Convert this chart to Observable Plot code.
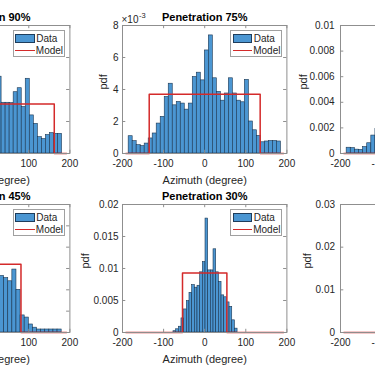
<!DOCTYPE html>
<html><head><meta charset="utf-8">
<script src="https://cdn.jsdelivr.net/npm/d3@7"></script>
<script src="https://cdn.jsdelivr.net/npm/@observablehq/plot@0.6"></script>
<style>
html,body{margin:0;padding:0;background:#fff;}
#fig{position:relative;width:375px;height:366px;overflow:hidden;background:#fff;font-family:"Liberation Sans",Arial,sans-serif;}
.leg{position:absolute;border:1px solid #a0a0a0;background:#fff;box-sizing:border-box;width:52px;height:27px;font-size:10px;color:#262626;}
.leg .sw{position:absolute;left:1.5px;top:2.5px;width:19.5px;height:9px;background:#4b96d2;border:0.6px solid #1e3d5c;box-sizing:border-box;}
.leg .ln{position:absolute;left:1.5px;top:18.5px;width:19.5px;height:1.5px;background:#d42a2a;}
.leg .t{position:absolute;line-height:11px;white-space:nowrap;}
</style></head><body><div id="fig"></div>
<script>
// ---- data ----
const titles = ["Penetration 90%", "Penetration 75%", "Penetration 60%", "Penetration 45%", "Penetration 30%", "Penetration 15%"];
const xTicks = [-200, -100, 0, 100, 200];
const binStart = [24, -185, -185, 20, -76, -10];
const binWidth = [9.8, 9.75, 10, 10, 6.5, 5];
const pdf90 = [0.0048, 0.00317, 0.00317, 0.00315, 0.00383, 0.00408, 0.0029, 0.00467, 0.00238, 0.00185, 0.00102, 0.0009, 0.00115, 0.00127, 0.00123, 0.00123];
const pdf75 = [0.00108, 0.00077, 0.00052, 0.00046, 0.00062, 0.00094, 0.00125, 0.00187, 0.00229, 0.00353, 0.00436, 0.00301, 0.00322, 0.00312, 0.00274, 0.00312, 0.00478, 0.00505, 0.00457, 0.00644, 0.00738, 0.0047, 0.00385, 0.0033, 0.00375, 0.0047, 0.00375, 0.0033, 0.0032, 0.0046, 0.002, 0.00145, 0.0011, 0.0007, 0.00075, 0.00078, 0.00078, 0.00075];
const pdf60 = [0.00045, 0.00042, 0.0003, 0.00028, 0.0005, 0.0008, 0.0014, 0.0019];
const pdf45 = [0.005, 0.0053, 0.0051, 0.0048, 0.0059, 0.004, 0.0016, 0.0014, 0.00075, 0.00045, 0.00028, 0.00028, 0.00028, 0.00028, 0.00028, 0.00028];
const pdf30 = [0.0002, 0.0005, 0.0009, 0.0022, 0.0036, 0.0049, 0.0062, 0.0074, 0.007, 0.0073, 0.0094, 0.011, 0.0178, 0.0097, 0.0097, 0.013, 0.0094, 0.0079, 0.0058, 0.0055, 0.0047, 0.004, 0.0019, 0.0006];
const pdf15 = [];
const modelHalfWidth = [162, 135, 108, 81, 54, 27];
const modelHeight = [0.0031, 0.0037, 0.0046, 0.0064, 0.0093, 0.0185];
const modelRange = [-192, 192];
const yMax = [0.008, 0.008, 0.01, 0.012, 0.02, 0.03];
const yTicks90 = [0, 0.002, 0.004, 0.006, 0.008];
const yTicks75 = [0, 0.002, 0.004, 0.006, 0.008];
const yTicks60 = [0, 0.002, 0.004, 0.006, 0.008, 0.01];
const yTicks45 = [0, 0.002, 0.004, 0.006, 0.008, 0.01, 0.012];
const yTicks30 = [0, 0.005, 0.01, 0.015, 0.02];
const yTicks15 = [0, 0.01, 0.02, 0.03];
const pdfs = [pdf90, pdf75, pdf60, pdf45, pdf30, pdf15];
const yTicksAll = [yTicks90, yTicks75, yTicks60, yTicks45, yTicks30, yTicks15];
const useExponent = [true, true, false, false, false, false];

// ---- styling / layout ----
const barFill = "#4b96d2", barStroke = "#1a3550", red = "#d42a2a", frameColor = "#8f8f8f", textColor = "#262626";
const boxW = 164.4, boxH = 128;
const boxLeft = [-95.1, 122.3, 340, -95.1, 122.3, 340];
const boxTop = [25, 25, 25, 204, 204, 204];
const pdfDx = [-19.3, -19.3, -37, -37, -37.3, -33];
const yPad = [4, 4, 6, 4, 4, 5.5];
const mL = 60, mR = 12, mT = 32, mB = 40;
const fig = document.getElementById("fig");
const fmtX = d => (d < 0 ? "-" + (-d) : String(d));

for (let i = 0; i < 6; i++) {
  const bars = pdfs[i].map((v, k) => ({x1: binStart[i] + k * binWidth[i], x2: binStart[i] + (k + 1) * binWidth[i], pdf: v}));
  const hw = modelHalfWidth[i], h = modelHeight[i];
  const model = [
    {x: modelRange[0], y: 0}, {x: -hw, y: 0}, {x: -hw, y: h},
    {x: hw, y: h}, {x: hw, y: 0}, {x: modelRange[1], y: 0}
  ];
  const ym = yMax[i];
  const yt = yTicksAll[i];
  const fmtY = useExponent[i] ? (d => String(Math.round(d * 1000))) : (d => d === 0 ? "0" : String(+d.toPrecision(3)));
  const marks = [
    Plot.rectY(bars, {x1: "x1", x2: "x2", y: "pdf", fill: barFill, stroke: barStroke, strokeWidth: 0.6}),
    Plot.line(model, {x: "x", y: "y", stroke: red, strokeWidth: 1.5}),
    Plot.frame({stroke: frameColor}),
    Plot.ruleX(xTicks, {x: d => d, y1: 0, y2: ym * 0.025, stroke: frameColor}),
    Plot.ruleX(xTicks, {x: d => d, y1: ym, y2: ym * 0.975, stroke: frameColor}),
    Plot.ruleY(yt, {y: d => d, x1: -200, x2: -192, stroke: frameColor}),
    Plot.ruleY(yt, {y: d => d, x1: 200, x2: 192, stroke: frameColor}),
    Plot.axisX(xTicks, {tickSize: 0, tickPadding: 6, fontSize: 10, color: textColor, tickFormat: fmtX, label: null}),
    Plot.axisY(yt, {tickSize: 0, tickPadding: yPad[i], fontSize: 10, color: textColor, tickFormat: fmtY, label: null}),
    Plot.text([titles[i]], {text: d => d, frameAnchor: "top", dy: -8.5, fontSize: 11, fontWeight: "bold", fill: "#000", lineAnchor: "middle"}),
    Plot.text(["pdf"], {text: d => d, frameAnchor: "left", dx: pdfDx[i], rotate: -90, fontSize: 11, fill: textColor, lineAnchor: "middle"}),
    Plot.text(["Azimuth (degree)"], {text: d => d, frameAnchor: "bottom", dy: 26.5, fontSize: 11, fill: textColor, lineAnchor: "middle"})
  ];
  if (useExponent[i]) {
    marks.push(Plot.text(["×10"], {text: d => d, frameAnchor: "top-left", dx: -1, dy: -6, fontSize: 10, fill: textColor, textAnchor: "start", lineAnchor: "middle"}));
    marks.push(Plot.text(["-3"], {text: d => d, frameAnchor: "top-left", dx: 16.5, dy: -9.5, fontSize: 7.5, fill: textColor, textAnchor: "start", lineAnchor: "middle"}));
  }
  const svg = Plot.plot({
    width: boxW + mL + mR, height: boxH + mT + mB,
    marginLeft: mL, marginRight: mR, marginTop: mT, marginBottom: mB,
    x: {domain: [-200, 200]},
    y: {domain: [0, ym]},
    style: {background: "transparent", overflow: "visible", fontFamily: "'Liberation Sans', Arial, sans-serif", maxWidth: "none"},
    marks
  });
  svg.style.position = "absolute";
  svg.style.left = (boxLeft[i] - mL) + "px";
  svg.style.top = (boxTop[i] - mT) + "px";
  fig.appendChild(svg);

  const leg = document.createElement("div");
  leg.className = "leg";
  leg.style.left = (boxLeft[i] + boxW - 4.5 - 52) + "px";
  leg.style.top = (boxTop[i] + 5) + "px";
  leg.innerHTML = '<div class="sw"></div><span class="t" style="left:22.5px;top:1.5px">Data</span><div class="ln"></div><span class="t" style="left:22px;top:13.5px">Model</span>';
  fig.appendChild(leg);
}
</script></body></html>
